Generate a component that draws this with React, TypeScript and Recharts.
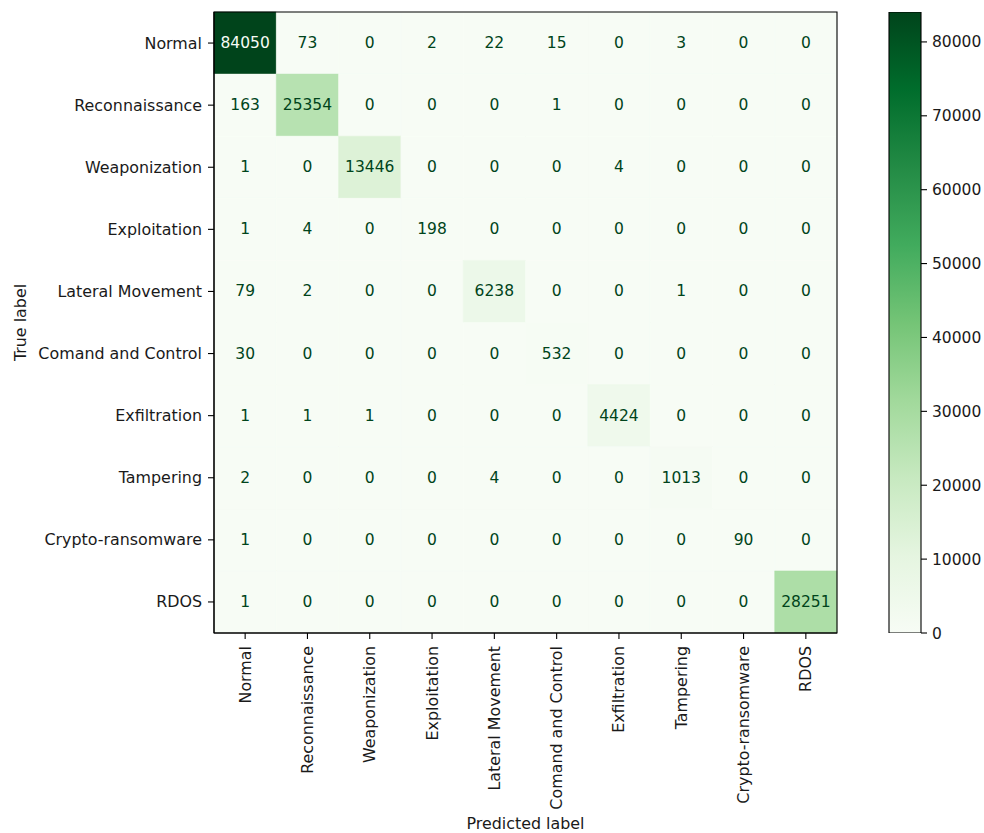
import React from 'react';
import {
  ComposedChart,
  BarChart,
  Bar,
  XAxis,
  YAxis,
  Scatter,
  ReferenceArea,
} from 'recharts';

// Class names shared by both axes
const CATEGORIES = [
  'Normal',
  'Reconnaissance',
  'Weaponization',
  'Exploitation',
  'Lateral Movement',
  'Comand and Control',
  'Exfiltration',
  'Tampering',
  'Crypto-ransomware',
  'RDOS',
];

// Confusion matrix rows (true label), columns follow CATEGORIES (predicted label)
const ROW_NORMAL = [84050, 73, 0, 2, 22, 15, 0, 3, 0, 0];
const ROW_RECON = [163, 25354, 0, 0, 0, 1, 0, 0, 0, 0];
const ROW_WEAPON = [1, 0, 13446, 0, 0, 0, 4, 0, 0, 0];
const ROW_EXPLOIT = [1, 4, 0, 198, 0, 0, 0, 0, 0, 0];
const ROW_LATERAL = [79, 2, 0, 0, 6238, 0, 0, 1, 0, 0];
const ROW_C2 = [30, 0, 0, 0, 0, 532, 0, 0, 0, 0];
const ROW_EXFIL = [1, 1, 1, 0, 0, 0, 4424, 0, 0, 0];
const ROW_TAMPER = [2, 0, 0, 0, 4, 0, 0, 1013, 0, 0];
const ROW_CRYPTO = [1, 0, 0, 0, 0, 0, 0, 0, 90, 0];
const ROW_RDOS = [1, 0, 0, 0, 0, 0, 0, 0, 0, 28251];

const MATRIX = [
  ROW_NORMAL,
  ROW_RECON,
  ROW_WEAPON,
  ROW_EXPLOIT,
  ROW_LATERAL,
  ROW_C2,
  ROW_EXFIL,
  ROW_TAMPER,
  ROW_CRYPTO,
  ROW_RDOS,
];

const COLORBAR_TICKS = [0, 10000, 20000, 30000, 40000, 50000, 60000, 70000, 80000];

// "Greens" sequential palette
const GREENS = [
  '#f7fcf5',
  '#e5f5e0',
  '#c7e9c0',
  '#a1d99b',
  '#74c476',
  '#41ab5d',
  '#238b45',
  '#006d2c',
  '#00441b',
];

const FONT = '"DejaVu Sans", sans-serif';
const FONT_SIZE = 15.9;
const TEXT_COLOR = '#1a1a1a';

const allValues = MATRIX.flat();
const VMAX = Math.max(...allValues);
const VMIN = Math.min(...allValues);

function hexToRgb(h: string): number[] {
  const n = parseInt(h.slice(1), 16);
  return [(n >> 16) & 255, (n >> 8) & 255, n & 255];
}

function greens(t: number): string {
  const c = Math.max(0, Math.min(1, t)) * (GREENS.length - 1);
  const i = Math.min(Math.floor(c), GREENS.length - 2);
  const f = c - i;
  const a = hexToRgb(GREENS[i]);
  const b = hexToRgb(GREENS[i + 1]);
  const m = a.map((v, k) => Math.round(v + (b[k] - v) * f));
  return `rgb(${m[0]},${m[1]},${m[2]})`;
}

type Cell = { x: number; y: number; value: number };
const cells: Cell[] = [];
MATRIX.forEach((row, r) => row.forEach((value, c) => cells.push({ x: c, y: r, value })));

const threshold = (VMAX + VMIN) / 2;
const INDEX_TICKS = CATEGORIES.map((_, i) => i);

const CellText = (props: any) => {
  const { cx, cy, payload } = props;
  if (cx == null || cy == null) return null;
  const fill = payload.value > threshold ? GREENS[0] : GREENS[GREENS.length - 1];
  return (
    <text
      x={cx}
      y={cy}
      textAnchor="middle"
      dominantBaseline="central"
      fontFamily={FONT}
      fontSize={15.5}
      fill={fill}
    >
      {payload.value}
    </text>
  );
};

const XTick = (props: any) => {
  const { x, y, payload } = props;
  return (
    <text
      x={x}
      y={y}
      transform={`rotate(-90, ${x}, ${y})`}
      textAnchor="end"
      dominantBaseline="central"
      fontFamily={FONT}
      fontSize={FONT_SIZE}
      fill={TEXT_COLOR}
    >
      {CATEGORIES[payload.value]}
    </text>
  );
};

const YTick = (props: any) => {
  const { x, y, payload } = props;
  return (
    <text
      x={x}
      y={y}
      textAnchor="end"
      dominantBaseline="central"
      fontFamily={FONT}
      fontSize={FONT_SIZE}
      fill={TEXT_COLOR}
    >
      {CATEGORIES[payload.value]}
    </text>
  );
};

const XAxisTitle = (props: any) => {
  const { viewBox } = props;
  const cx = viewBox.x + viewBox.width / 2;
  return (
    <text
      x={cx}
      y={viewBox.y + viewBox.height - 4}
      textAnchor="middle"
      fontFamily={FONT}
      fontSize={FONT_SIZE}
      fill={TEXT_COLOR}
    >
      Predicted label
    </text>
  );
};

const YAxisTitle = (props: any) => {
  const { viewBox } = props;
  const cy = viewBox.y + viewBox.height / 2;
  const x = 26;
  return (
    <text
      x={x}
      y={cy}
      transform={`rotate(-90, ${x}, ${cy})`}
      textAnchor="middle"
      fontFamily={FONT}
      fontSize={FONT_SIZE}
      fill={TEXT_COLOR}
    >
      True label
    </text>
  );
};

const COLORBAR_DATA = [{ name: 'scale', value: VMAX }];

export default function App() {
  return (
    <div
      style={{
        position: 'absolute',
        left: 0,
        top: 0,
        width: 984,
        height: 833,
        background: '#fff',
      }}
    >
      <div style={{ position: 'absolute', left: 0, top: 0 }}>
        <ComposedChart
          width={870}
          height={833}
          margin={{ top: 12, right: 33, bottom: 0, left: 0 }}
        >
          <XAxis
            type="number"
            dataKey="x"
            domain={[-0.5, 9.5]}
            ticks={INDEX_TICKS}
            interval={0}
            height={200}
            tickSize={6}
            tickMargin={7}
            tick={<XTick />}
            axisLine={{ stroke: '#000', strokeWidth: 1.1 }}
            tickLine={{ stroke: '#000', strokeWidth: 1.1 }}
            allowDataOverflow
            label={<XAxisTitle />}
          />
          <YAxis
            type="number"
            dataKey="y"
            domain={[-0.5, 9.5]}
            reversed
            ticks={INDEX_TICKS}
            interval={0}
            width={214}
            tickSize={6}
            tickMargin={6}
            tick={<YTick />}
            axisLine={{ stroke: '#000', strokeWidth: 1.1 }}
            tickLine={{ stroke: '#000', strokeWidth: 1.1 }}
            allowDataOverflow
            label={<YAxisTitle />}
          />
          {cells.map((c) => {
            const color = greens((c.value - VMIN) / (VMAX - VMIN));
            return (
              <ReferenceArea
                key={`cell-${c.x}-${c.y}`}
                x1={c.x - 0.5}
                x2={c.x + 0.5}
                y1={c.y - 0.5}
                y2={c.y + 0.5}
                fill={color}
                fillOpacity={1}
                stroke={color}
                strokeWidth={0.5}
              />
            );
          })}
          <ReferenceArea
            x1={-0.5}
            x2={9.5}
            y1={-0.5}
            y2={9.5}
            fill="none"
            fillOpacity={0}
            stroke="#000"
            strokeWidth={1.1}
          />
          <Scatter
            data={cells}
            dataKey="value"
            isAnimationActive={false}
            shape={<CellText />}
          />
        </ComposedChart>
      </div>
      <div style={{ position: 'absolute', left: 870, top: 0 }}>
        <BarChart
          width={114}
          height={833}
          data={COLORBAR_DATA}
          margin={{ top: 12, right: 0, bottom: 200, left: 19 }}
          barCategoryGap={0}
        >
          <defs>
            <linearGradient id="greensScale" x1="0" y1="1" x2="0" y2="0">
              {GREENS.map((g, i) => (
                <stop key={g} offset={`${(i / (GREENS.length - 1)) * 100}%`} stopColor={g} />
              ))}
            </linearGradient>
          </defs>
          <XAxis dataKey="name" hide />
          <YAxis
            orientation="right"
            type="number"
            domain={[0, VMAX]}
            ticks={COLORBAR_TICKS}
            interval={0}
            width={63}
            tickSize={6}
            tickMargin={5}
            axisLine={false}
            tickLine={{ stroke: '#000', strokeWidth: 1.1 }}
            tick={{ fill: TEXT_COLOR, fontFamily: FONT, fontSize: 15.5, textAnchor: 'start' }}
            allowDataOverflow
          />
          <Bar
            dataKey="value"
            fill="url(#greensScale)"
            stroke="#000"
            strokeWidth={1.1}
            isAnimationActive={false}
          />
        </BarChart>
      </div>
    </div>
  );
}
